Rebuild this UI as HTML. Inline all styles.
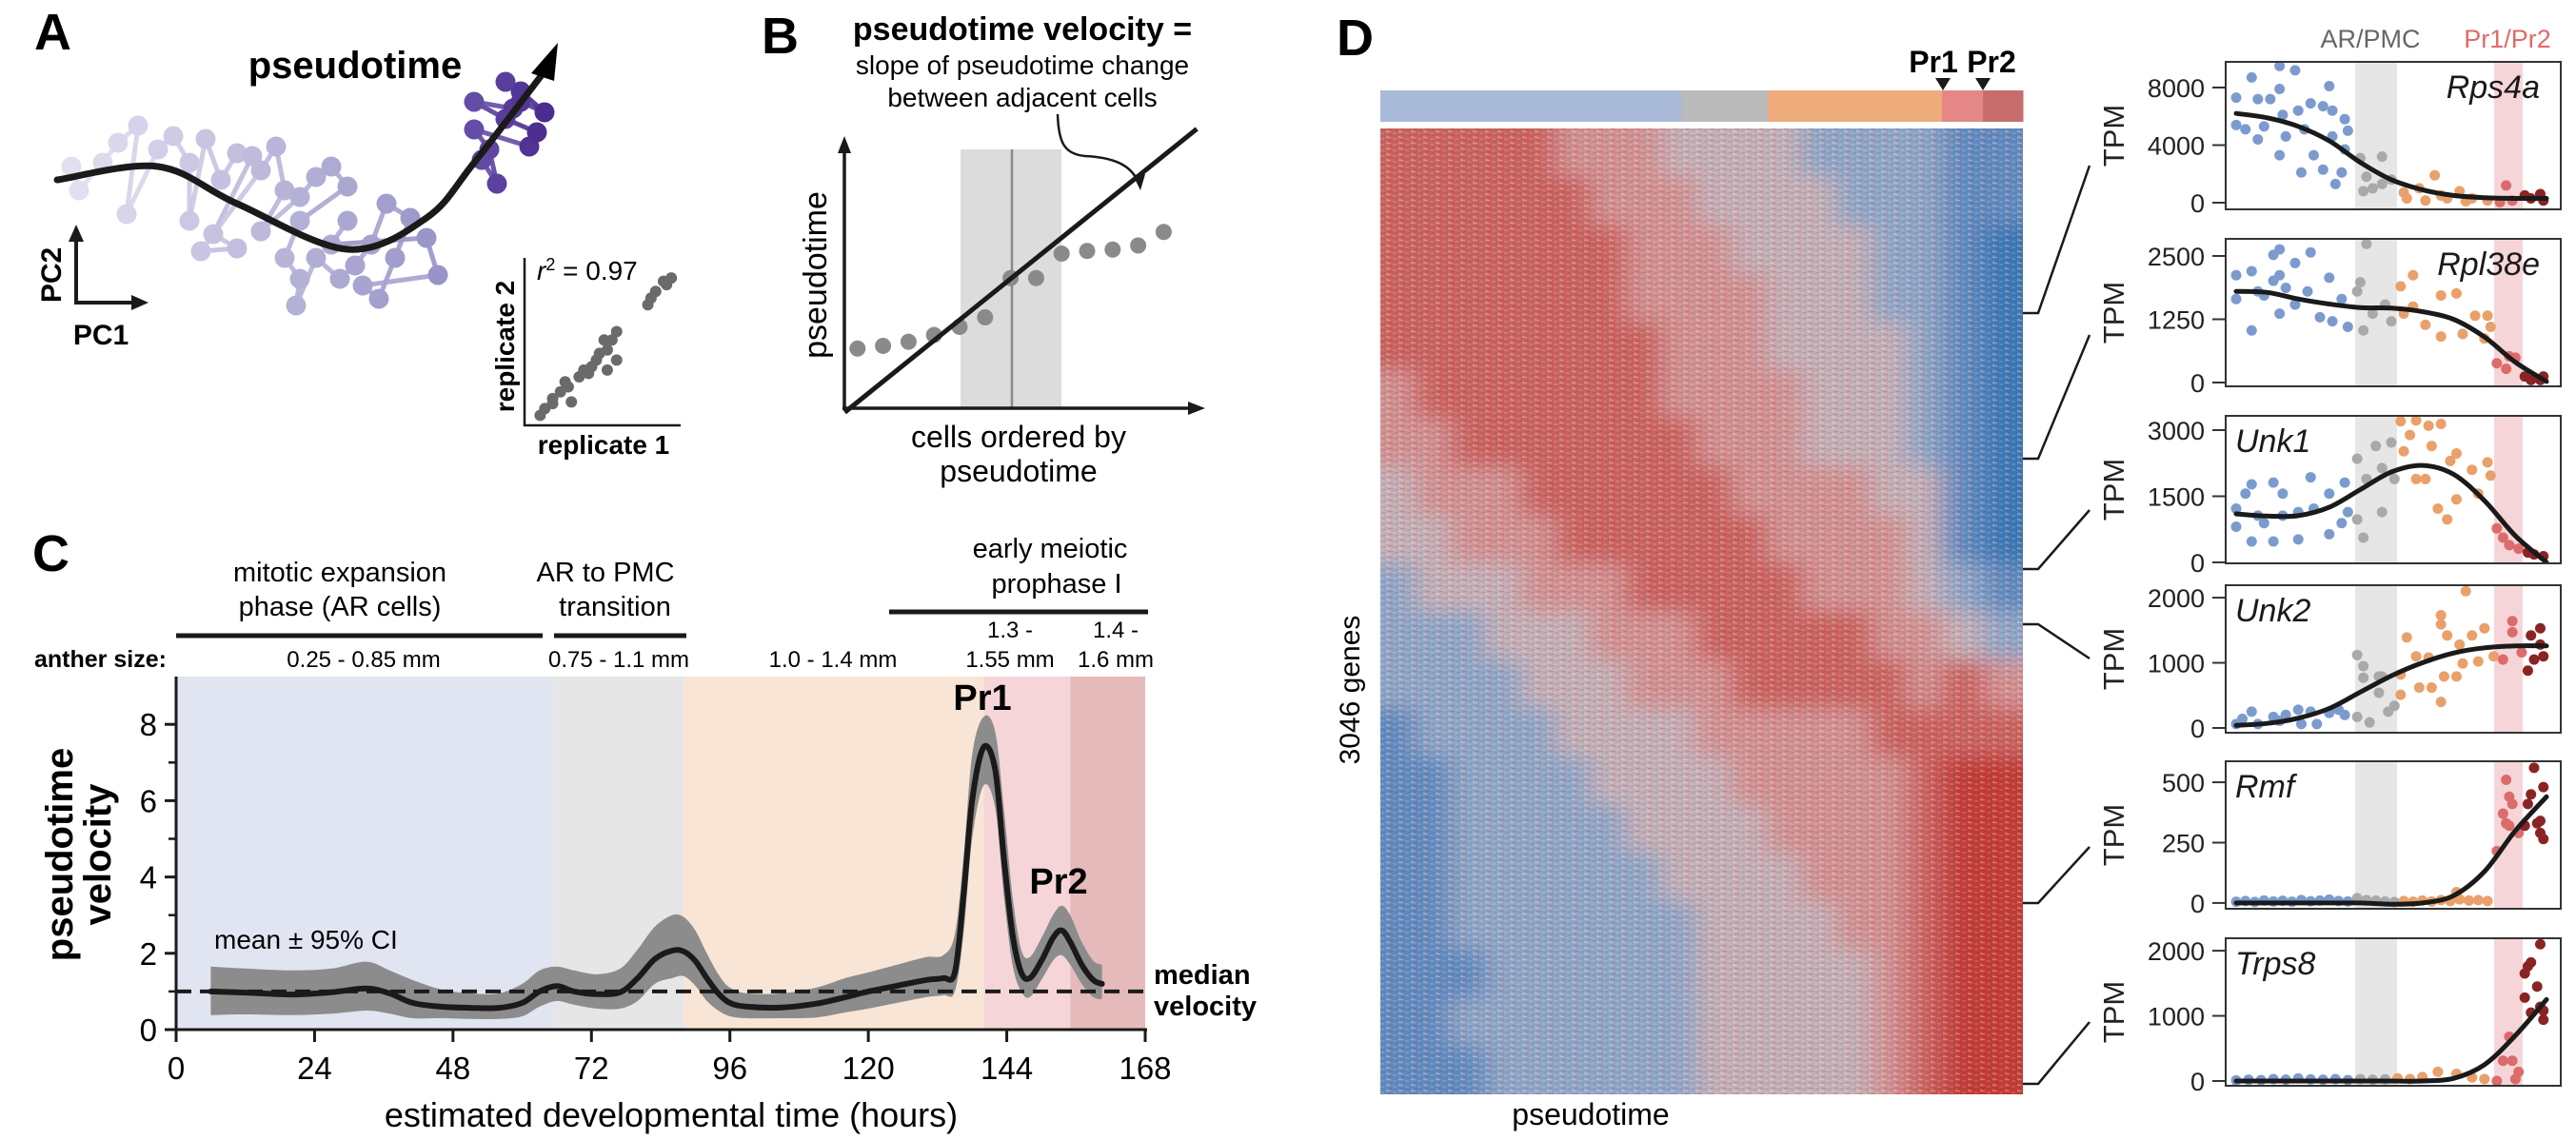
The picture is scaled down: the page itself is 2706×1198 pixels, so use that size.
<!DOCTYPE html>
<html><head><meta charset="utf-8">
<style>
html,body{margin:0;padding:0;background:#fff;}
svg{display:block;}
.cn{font-family:"Liberation Sans Narrow","Liberation Sans",sans-serif;}
.rg{font-family:"Liberation Sans",sans-serif;}
</style></head>
<body>
<svg id="fig" xmlns="http://www.w3.org/2000/svg" width="2706" height="1198" viewBox="0 0 2706 1198">
<defs>
<pattern id="tex" width="13" height="6" patternUnits="userSpaceOnUse">
<rect x="0" y="0" width="5" height="1.2" fill="#fff" opacity="0.3"/>
<rect x="7" y="1.5" width="4" height="1" fill="#fff" opacity="0.25"/>
<rect x="2" y="3" width="5" height="1.2" fill="#b22" opacity="0.22"/>
<rect x="9" y="4.2" width="4" height="1" fill="#26a" opacity="0.22"/>
<rect x="0" y="4.8" width="3" height="1" fill="#fff" opacity="0.25"/>
</pattern>
<filter id="hblur" filterUnits="userSpaceOnUse" x="1380" y="60" width="820" height="1170">
<feGaussianBlur stdDeviation="14 10"/>
</filter>
<clipPath id="heatClip"><rect x="1450" y="135" width="675" height="1015"/></clipPath>
</defs>

<!-- Panel A -->
<g id="panelA">
<text x="36" y="52" class="cn" font-size="54" font-weight="bold">A</text>
<text x="373" y="82" class="cn" font-size="40" font-weight="bold" text-anchor="middle">pseudotime</text>
<g id="pcaPts"></g>
<g id="pcaCurve"></g>
<g>
<line x1="80" y1="318" x2="80" y2="250" stroke="#1a1a1a" stroke-width="4"/>
<polygon points="80,236 72,254 88,254" fill="#1a1a1a"/>
<line x1="78" y1="318" x2="142" y2="318" stroke="#1a1a1a" stroke-width="4"/>
<polygon points="156,318 138,310 138,326" fill="#1a1a1a"/>
<text transform="translate(64,289) rotate(-90)" class="cn" font-size="30" font-weight="bold" text-anchor="middle">PC2</text>
<text x="106" y="362" class="cn" font-size="30" font-weight="bold" text-anchor="middle">PC1</text>
</g>
<g id="inset">
<polyline points="551,271 551,447 715,447" fill="none" stroke="#1a1a1a" stroke-width="2.5"/>
<text x="564" y="294" class="cn" font-size="28"><tspan font-style="italic">r</tspan><tspan dy="-10" font-size="18">2</tspan><tspan dy="10"> = 0.97</tspan></text>
<text transform="translate(540,364) rotate(-90)" class="cn" font-size="28" font-weight="bold" text-anchor="middle">replicate 2</text>
<text x="634" y="477" class="cn" font-size="28" font-weight="bold" text-anchor="middle">replicate 1</text>
<g id="insetPts"></g>
</g>
</g>

<!-- Panel B -->
<g id="panelB">
<text x="800" y="56" class="cn" font-size="54" font-weight="bold">B</text>
<text x="1074" y="42" class="cn" font-size="34" font-weight="bold" text-anchor="middle">pseudotime velocity =</text>
<text x="1074" y="78" class="cn" font-size="28" text-anchor="middle">slope of pseudotime change</text>
<text x="1074" y="112" class="cn" font-size="28" text-anchor="middle">between adjacent cells</text>
<rect x="1009" y="157" width="106" height="272" fill="#dcdcdc"/>
<line x1="1063" y1="157" x2="1063" y2="429" stroke="#8a8a8a" stroke-width="2.5"/>
<line x1="887" y1="431" x2="887" y2="158" stroke="#1a1a1a" stroke-width="3.5"/>
<polygon points="887,143 880,161 894,161" fill="#1a1a1a"/>
<line x1="885" y1="429" x2="1252" y2="429" stroke="#1a1a1a" stroke-width="3.5"/>
<polygon points="1266,429 1248,422 1248,436" fill="#1a1a1a"/>
<g id="bPts"></g>
<line id="bFit" stroke="#1a1a1a" stroke-width="5"/>
<path d="M1111,120 C1112,150 1118,162 1140,164 C1178,166 1190,178 1196,192" fill="none" stroke="#1a1a1a" stroke-width="2.5"/>
<polygon points="1198,200 1190,184 1203,183" fill="#1a1a1a"/>
<text transform="translate(868,289) rotate(-90)" class="cn" font-size="34" text-anchor="middle">pseudotime</text>
<text x="1070" y="470" class="cn" font-size="32" text-anchor="middle">cells ordered by</text>
<text x="1070" y="506" class="cn" font-size="32" text-anchor="middle">pseudotime</text>
</g>

<!-- Panel C -->
<g id="panelC">
<text x="34" y="600" class="cn" font-size="54" font-weight="bold">C</text>
<g class="cn" font-size="29" text-anchor="middle">
<text x="357" y="611">mitotic expansion</text>
<text x="357" y="647">phase (AR cells)</text>
<line x1="185" y1="668" x2="570" y2="668" stroke="#1a1a1a" stroke-width="5"/>
<text x="636" y="611">AR to PMC</text>
<text x="646" y="647">transition</text>
<line x1="582" y1="668" x2="721" y2="668" stroke="#1a1a1a" stroke-width="5"/>
<text x="1103" y="586">early meiotic</text>
<text x="1110" y="623">prophase I</text>
<line x1="934" y1="643" x2="1206" y2="643" stroke="#1a1a1a" stroke-width="5"/>
</g>
<g class="cn" font-size="24" text-anchor="middle">
<text x="36" y="701" text-anchor="start" font-weight="bold" font-size="25">anther size:</text>
<text x="382" y="701">0.25 - 0.85 mm</text>
<text x="650" y="701">0.75 - 1.1 mm</text>
<text x="875" y="701">1.0 - 1.4 mm</text>
<text x="1061" y="670">1.3 -</text>
<text x="1061" y="701">1.55 mm</text>
<text x="1172" y="670">1.4 -</text>
<text x="1172" y="701">1.6 mm</text>
</g>
<g id="cBg"></g>
<g id="cBand"></g>
<line id="cMedian" stroke="#1a1a1a" stroke-width="4" stroke-dasharray="16,9"/>
<g id="cLine"></g>
<g id="cAxes"></g>
<text x="1032" y="746" class="cn" font-size="38" font-weight="bold" text-anchor="middle">Pr1</text>
<text x="1112" y="939" class="cn" font-size="38" font-weight="bold" text-anchor="middle">Pr2</text>
<text x="225" y="997" class="cn" font-size="28">mean ± 95% CI</text>
<text x="1212" y="1034" class="cn" font-size="29" font-weight="bold">median</text>
<text x="1212" y="1067" class="cn" font-size="29" font-weight="bold">velocity</text>
<text transform="translate(76,898) rotate(-90)" class="rg" font-size="40" font-weight="bold" text-anchor="middle">pseudotime</text>
<text transform="translate(116,898) rotate(-90)" class="rg" font-size="40" font-weight="bold" text-anchor="middle">velocity</text>
<text x="705" y="1184" class="cn" font-size="36" text-anchor="middle">estimated developmental time (hours)</text>
</g>

<!-- Panel D -->
<g id="panelD">
<text x="1404" y="58" class="cn" font-size="54" font-weight="bold">D</text>
<g id="dBar"></g>
<text x="2031" y="76" class="cn" font-size="32" font-weight="bold" text-anchor="middle">Pr1</text>
<text x="2092" y="76" class="cn" font-size="32" font-weight="bold" text-anchor="middle">Pr2</text>
<polygon points="2033,82 2049,82 2041,95" fill="#1a1a1a"/>
<polygon points="2075,82 2091,82 2083,95" fill="#1a1a1a"/>
<g clip-path="url(#heatClip)">
<g id="heat" filter="url(#hblur)"></g>
</g>
<rect x="1450" y="135" width="675" height="1015" fill="url(#tex)"/>
<text transform="translate(1428,725) rotate(-90)" class="rg" font-size="30" text-anchor="middle">3046 genes</text>
<text x="1671" y="1182" class="rg" font-size="32" text-anchor="middle">pseudotime</text>
<g id="connectors"></g>
<text x="2490" y="50" class="rg" font-size="27" fill="#666" text-anchor="middle">AR/PMC</text>
<text x="2634" y="50" class="rg" font-size="27" fill="#e06a6a" text-anchor="middle">Pr1/Pr2</text>
<g id="minis"></g>
</g>
</svg>

<script>
// ================= DATA =================
const pcaPC1 = [-1,0.6,5.6,8.8,13,10.6,17.2,20.4,23.8,23.8,27.2,30.4,33.8,37,28.8,33.8,26.2,38.8,42,43.8,38.8,47,50.4,53.6,57,47,43.8,47,46.2,50.4,55.4,58.6,62,65.2,70.2,67,63.6,60.2,76,73.6,53.6,57,85.2,88.4,86.8,83.6,95.2,96.8,90.2,83.6,91.8,93.4,98.4,93.4,90.2];
const pcaPC2 = [28.6,23.6,29.4,33.6,37.2,18.6,32.2,35,29.4,17.2,34.4,25.8,31.4,30.8,14.4,11.4,10.8,27.8,32.8,23.6,15,22.2,26.4,28.6,24.4,17.2,9.4,5,-0.6,9.4,5,7.8,12.2,20.8,17.8,9.4,0.8,3.6,5.8,13.6,12.2,17.2,30,25,32.2,36.4,32.8,35.8,38.6,42.2,40.8,42.2,40,44.4,46.4];
const trajPC1 = [-4,17.2,33.8,57,73.6,83.6,98.4];
const trajPC2 = [25.8,28.6,20.8,11.2,17.8,29.4,48.6];
const rep1 = [.10,.13,.18,.23,.28,.30,.35,.41,.43,.46,.48,.53,.53,.56,.59,.51,.59,.79,.81,.84,.89,.94,.91,.18,.26,.38];
const rep2 = [.06,.10,.13,.20,.23,.14,.29,.31,.35,.39,.43,.45,.33,.51,.56,.51,.39,.72,.76,.80,.86,.88,.84,.16,.26,.33];
const bRank = [1,2,3,4,5,6,7,8,9,10,11,12,13];
const bPseudo = [2.2,2.3,2.45,2.7,3.0,3.35,4.8,4.8,5.7,5.8,5.85,6.0,6.5];
const bFitVals = [-0.15, 10.3];

const cHours = [6,12,20,27,33,37,41,46,51,56,60,63,66,69,73,77,80,83,86,88,90,92,94,96,99,105,111,116,120,125,130,133,135,136.5,138,140,142,143.5,145,146.5,148,150,152,153.5,155,157,159,160.5];
const cMean = [1.0,0.97,0.92,0.98,1.08,0.95,0.7,0.6,0.57,0.57,0.7,1.0,1.14,1.0,0.93,0.98,1.35,1.85,2.07,2.05,1.8,1.35,0.95,0.7,0.6,0.58,0.68,0.85,1.0,1.15,1.3,1.35,1.5,3.5,6.0,7.4,6.8,4.5,2.5,1.5,1.35,1.8,2.4,2.6,2.3,1.7,1.3,1.2];
const cHi = [1.65,1.6,1.55,1.6,1.78,1.55,1.3,1.05,0.95,0.95,1.2,1.55,1.65,1.55,1.45,1.6,2.1,2.7,3.0,2.95,2.6,2.0,1.45,1.1,0.95,0.95,1.1,1.35,1.5,1.7,1.9,1.95,2.5,4.5,7.2,8.2,7.8,5.8,3.5,2.1,1.9,2.4,3.0,3.25,3.0,2.3,1.8,1.7];
const cLo = [0.38,0.4,0.38,0.42,0.5,0.42,0.3,0.3,0.28,0.28,0.35,0.6,0.75,0.65,0.55,0.55,0.75,1.2,1.35,1.4,1.15,0.75,0.5,0.35,0.3,0.3,0.32,0.45,0.55,0.7,0.85,0.9,1.0,2.5,5.0,6.4,5.8,3.5,1.7,1.0,0.85,1.3,1.8,1.95,1.7,1.2,0.85,0.8];
const cMedianVal = 1.0;
const cStageEdges = [0,65.3,88,140,155,168];
const cStageColors = ["#e0e5f1","#e6e6e6","#f9e5d5","#f6d5d8","#e5babb"];
const cXTicks = [0,24,48,72,96,120,144,168];
const cYTicks = [0,2,4,6,8];
const cYMinor = [1,3,5,7];

const dStageEdges = [0,0.469,0.603,0.874,0.938,1];
const dStageColors = ["#aabbd9","#bbbbbb","#eeab7c","#e58787","#c76c6c"];
const heatRows = [
"555554443333222211",
"555555444333322211",
"555555544433332210",
"555555544443332210",
"555555554443333210",
"455555554444333210",
"445555555444333210",
"344455555544443310",
"334445555554444310",
"233344455555444321",
"222333444555554432",
"222233344455555454",
"122223333444445555",
"112222333344444566",
"112222233334444566",
"112222223333444566",
"112222222333344566",
"111222222333334566",
"112222222333334566",
"111222222333334566"];
const heatColors = ["#3a77b4","#6189bd","#8ea4c4","#c2adb4","#d08f8f","#c9625d","#c13a35"];

const rps4aX = [0,0,.05,.07,.09,.11,.14,.14,.15,.16,.19,.2,.22,.24,.25,.28,.3,.31,.31,.21,.28,.35,.36,.34,.32,.35,.14,.07,.03,.4,.41,.42,.47,.47,.5,.44,.54,.59,.64,.66,.72,.76,.81,.87,.85,.89,.93,.95,.98,.99,.55,.61,.68,.74];
const rps4aY = [7300,5400,8700,7200,5300,7200,9500,7900,6100,4600,9200,6400,5100,6900,3300,6700,8100,6400,4600,2100,2300,5800,5000,2100,1300,3700,3300,4400,5100,3100,800,1800,3200,1300,1600,1000,700,1000,1900,500,800,300,150,1200,30,150,500,300,600,150,300,150,300,100];
const rps4aCurve = [6200,5900,5300,4300,2800,1600,900,500,350,300,300];

const rpl38eX = [0,0,.05,.05,.07,.12,.14,.14,.14,.12,.19,.19,.24,.23,.3,.27,.31,.34,.36,.09,.16,.39,.4,.42,.41,.44,.48,.5,.53,.54,.57,.57,.61,.66,.66,.71,.73,.77,.81,.82,.8,.84,.87,.9,.88,.93,.95,.99,.98];
const rpl38eY = [2120,1650,2200,1030,1800,2520,2630,2120,1360,2010,2360,1540,2570,1800,2070,1290,1210,1650,1100,1720,1870,1800,1980,2740,1030,1360,1540,1210,1900,1360,2120,1500,1140,1720,910,1760,960,1320,1320,1100,870,380,270,490,520,120,50,120,50];
const rpl38eCurve = [1800,1780,1650,1550,1480,1470,1400,1250,900,400,20];

const unk1X = [0,0,.03,.05,.05,.07,.09,.12,.12,.15,.15,.2,.2,.24,.25,.3,.3,.35,.34,.36,.39,.39,.41,.42,.45,.47,.47,.5,.51,.53,.54,.56,.58,.58,.61,.62,.63,.65,.66,.68,.69,.71,.71,.76,.78,.81,.82,.84,.86,.88,.91,.94,.96,.99];
const unk1Y = [1220,810,1560,1770,475,1060,890,1810,475,1560,1060,1140,520,1930,1220,640,1560,1810,890,1140,2350,975,560,1890,2640,2140,1140,2720,1890,3200,2520,2890,3220,1890,1890,3100,2640,1220,3140,975,2300,2470,1430,2100,1560,2270,1970,770,560,390,310,225,180,140];
const unk1Curve = [1100,1050,1060,1250,1650,2050,2200,2000,1400,600,0];

const unk2X = [0,.02,.05,.07,.12,.14,.16,.2,.21,.24,.26,.3,.33,.35,.39,.41,.41,.39,.43,.46,.46,.47,.49,.51,.53,.53,.55,.58,.59,.62,.63,.66,.66,.66,.67,.68,.71,.72,.73,.74,.76,.78,.8,.83,.86,.89,.89,.92,.94,.95,.96,.98,.99,.98];
const unk2Y = [60,140,250,60,170,110,200,280,60,250,60,230,280,200,1120,950,770,170,85,790,540,790,250,340,510,820,1390,1100,620,1080,620,1730,1590,400,790,1420,790,1280,990,2100,1420,1020,1530,1100,1050,1640,1470,1160,880,1420,1050,1530,1100,1280];
const unk2Curve = [40,70,150,300,550,800,1000,1150,1230,1260,1260];

const rmfX = [0,.03,.06,.09,.12,.15,.18,.21,.24,.27,.3,.33,.36,.39,.42,.45,.48,.51,.54,.57,.6,.63,.66,.69,.71,.72,.75,.78,.81,.84,.87,.86,.88,.88,.89,.91,.87,.93,.94,.95,.96,.97,.98,.99,.99,.98];
const rmfY = [5,8,4,10,6,9,5,12,7,10,14,8,6,20,12,10,6,4,8,5,10,6,12,8,45,15,10,12,8,215,510,370,440,320,410,290,330,320,410,450,560,330,290,480,265,340];
const rmfCurve = [0,0,0,0,0,-5,0,30,130,300,440];

const trps8X = [0,.04,.08,.12,.16,.2,.24,.28,.32,.36,.4,.44,.48,.52,.56,.6,.65,.71,.76,.8,.84,.86,.88,.89,.9,.91,.93,.94,.95,.93,.97,.98,.95,.99,.99,.98];
const trps8Y = [10,20,15,30,20,40,25,20,30,15,30,20,25,40,30,60,140,110,55,30,0,310,680,310,30,140,1650,1760,1820,1280,1450,2100,1050,1080,940,1140];
const trps8Curve = [0,0,0,0,0,0,0,40,250,700,1250];

// ================= HELPERS =================
const NS = "http://www.w3.org/2000/svg";
function mk(tag, attrs, parent){
  const el = document.createElementNS(NS, tag);
  for (const k in attrs) el.setAttribute(k, attrs[k]);
  parent.appendChild(el);
  return el;
}
function smooth(pts, start){
  let d = (start||"M") + pts[0][0].toFixed(1) + "," + pts[0][1].toFixed(1);
  for (let i=0;i<pts.length-1;i++){
    const p0 = pts[Math.max(0,i-1)], p1 = pts[i], p2 = pts[i+1], p3 = pts[Math.min(pts.length-1,i+2)];
    const c1x = p1[0]+(p2[0]-p0[0])/6, c1y = p1[1]+(p2[1]-p0[1])/6;
    const c2x = p2[0]-(p3[0]-p1[0])/6, c2y = p2[1]-(p3[1]-p1[1])/6;
    d += " C"+c1x.toFixed(1)+","+c1y.toFixed(1)+" "+c2x.toFixed(1)+","+c2y.toFixed(1)+" "+p2[0].toFixed(1)+","+p2[1].toFixed(1);
  }
  return d;
}
function lerpColor(a,b,t){
  return "rgb("+a.map((v,i)=>Math.round(v+(b[i]-v)*t)).join(",")+")";
}

// ================= PANEL A =================
const pcX = v => 80 + v*5;
const pcY = v => 318 - v*5;
function pcaColor(v){
  const t = Math.max(0, Math.min(1, v/100));
  if (t < 0.78) return lerpColor([226,224,240],[150,146,198], t/0.78);
  return lerpColor([110,90,175],[72,40,140], (t-0.78)/0.22);
}
const pcaG = document.getElementById("pcaPts");
for (let i=0;i<pcaPC1.length-1;i++){
  const sameGroup = (pcaPC1[i]>=80) === (pcaPC1[i+1]>=80);
  if (!sameGroup) continue;
  const ln = mk("line",{x1:pcX(pcaPC1[i]),y1:pcY(pcaPC2[i]),x2:pcX(pcaPC1[i+1]),y2:pcY(pcaPC2[i+1]),stroke:pcaColor(pcaPC1[i]),"stroke-width":5,opacity:0.9},pcaG);
  
  
}
for (let i=0;i<pcaPC1.length;i++){
  const c = mk("circle",{cx:pcX(pcaPC1[i]),cy:pcY(pcaPC2[i]),r:10.5,fill:pcaColor(pcaPC1[i])},pcaG);
  
  
}
const trajG = document.getElementById("pcaCurve");
const trajPts = trajPC1.map((v,i)=>[pcX(v),pcY(trajPC2[i])]);
const traj = mk("path",{d:smooth(trajPts),fill:"none",stroke:"#1a1a1a","stroke-width":7,"stroke-linecap":"round"},trajG);


const lastA = trajPts[trajPts.length-1];
const ah = mk("polygon",{points:(lastA[0]+14)+","+(lastA[1]-30)+" "+(lastA[0]-14)+","+(lastA[1]+2)+" "+(lastA[0]+10)+","+(lastA[1]+10)},trajG);



const insX = v => 551 + v*164;
const insY = v => 447 - v*176;
const insG = document.getElementById("insetPts");
for (let i=0;i<rep1.length;i++){
  const c = mk("circle",{cx:insX(rep1[i]),cy:insY(rep2[i]),r:6,fill:"#6a6a6a"},insG);
  
  
}

// ================= PANEL B =================
const bX = v => 874 + v*26.8;
const bY = v => 429 - v*28.5;
const bG = document.getElementById("bPts");
for (let i=0;i<bRank.length;i++){
  const c = mk("circle",{cx:bX(bRank[i]),cy:bY(bPseudo[i]),r:8.5,fill:"#8a8a8a"},bG);
  
  
}
const bFit = document.getElementById("bFit");
bFit.setAttribute("x1", bX(0.5)); bFit.setAttribute("y1", bY(bFitVals[0]));
bFit.setAttribute("x2", bX(14.3)); bFit.setAttribute("y2", bY(bFitVals[1]));

// ================= PANEL C =================
const cx0=185, cx1=1203, cy0=1082, cPerUnit=40.1, cTop=711;
const cX = h => cx0 + h/168*(cx1-cx0);
const cY = v => cy0 - v*cPerUnit;
const bgG = document.getElementById("cBg");
for (let i=0;i<cStageColors.length;i++){
  const r = mk("rect",{x:cX(cStageEdges[i]),y:cTop,width:cX(cStageEdges[i+1])-cX(cStageEdges[i]),height:cy0-cTop,fill:cStageColors[i]},bgG);
  
  
}
const hiPts = cHours.map((h,i)=>[cX(h),cY(cHi[i])]);
const loPts = cHours.map((h,i)=>[cX(h),cY(cLo[i])]).reverse();
const band = mk("path",{d:smooth(hiPts)+" "+smooth(loPts,"L")+" Z",fill:"#8c8c8c"},document.getElementById("cBand"));


const med = document.getElementById("cMedian");
med.setAttribute("x1", cx0); med.setAttribute("x2", cX(168)+6);
med.setAttribute("y1", cY(cMedianVal)); med.setAttribute("y2", cY(cMedianVal));
const meanPath = mk("path",{d:smooth(cHours.map((h,i)=>[cX(h),cY(cMean[i])])),fill:"none",stroke:"#1a1a1a","stroke-width":6,"stroke-linecap":"round"},document.getElementById("cLine"));


const axG = document.getElementById("cAxes");
const yAx = mk("line",{x1:cx0,y1:cTop,x2:cx0,y2:cy0+2,stroke:"#1a1a1a","stroke-width":3},axG);


const xAx = mk("line",{x1:cx0-2,y1:cy0,x2:cx1+2,y2:cy0,stroke:"#1a1a1a","stroke-width":3},axG);


cXTicks.forEach(t=>{
  const tk = mk("line",{x1:cX(t),y1:cy0,x2:cX(t),y2:cy0+13,stroke:"#1a1a1a","stroke-width":3},axG);
  
  
  const tl = mk("text",{x:cX(t),y:cy0+52,"text-anchor":"middle","font-size":33,class:"cn"},axG);
  tl.textContent = t;
  
  
});
cYTicks.forEach(t=>{
  const tk = mk("line",{x1:cx0-12,y1:cY(t),x2:cx0,y2:cY(t),stroke:"#1a1a1a","stroke-width":3},axG);
  
  
  const tl = mk("text",{x:cx0-20,y:cY(t)+12,"text-anchor":"end","font-size":33,class:"cn"},axG);
  tl.textContent = t;
  
  
});
cYMinor.forEach(t=>{
  const tk = mk("line",{x1:cx0-8,y1:cY(t),x2:cx0,y2:cY(t),stroke:"#1a1a1a","stroke-width":2.5},axG);
  
  
});

// ================= PANEL D =================
const hx0=1450, hx1=2125;
const dBarG = document.getElementById("dBar");
const dX = f => hx0 + f*(hx1-hx0);
for (let i=0;i<dStageColors.length;i++){
  const r = mk("rect",{x:dX(dStageEdges[i]),y:95,width:dX(dStageEdges[i+1])-dX(dStageEdges[i])+0.5,height:33,fill:dStageColors[i]},dBarG);
  
  
}
const heatG = document.getElementById("heat");
const hTop=135, hBot=1150;
const rowH = (hBot-hTop)/heatRows.length;
const mainCols = 16;
const colEdgesFrac = [];
for (let c=0;c<=mainCols;c++) colEdgesFrac.push(c/mainCols*dStageEdges[3]);
colEdgesFrac.push(dStageEdges[4]); colEdgesFrac.push(1);
const PAD = 60;
heatRows.forEach((row,ri)=>{
  for (let ci=0; ci<row.length; ci++){
    const lvl = +row[ci];
    let x0 = dX(colEdgesFrac[ci]), x1 = dX(colEdgesFrac[ci+1]);
    let y0 = hTop+ri*rowH, y1 = y0+rowH;
    if (ci===0) x0 -= PAD;
    if (ci===row.length-1) x1 += PAD;
    if (ri===0) y0 -= PAD;
    if (ri===heatRows.length-1) y1 += PAD;
    const r = mk("rect",{x:x0,y:y0,width:x1-x0+0.6,height:y1-y0+0.6,fill:heatColors[lvl]},heatG);
    
    
  }
});

const conG = document.getElementById("connectors");
const conRowY = [329,482,598,656,949,1139];
const conLabelY = [174,352,536,692,890,1074];
conRowY.forEach((y,i)=>{
  const p = mk("polyline",{points:"2125,"+y+" 2141,"+y+" 2195,"+conLabelY[i],fill:"none",stroke:"#1a1a1a","stroke-width":2.5},conG);
  
  
});

const boxL=2338, boxR=2690, px0=2349, px1=2675;
const mpX = f => px0 + f*(px1-px0);
function stageColor(f){
  if (f < 0.383) return "#7b9bcf";
  if (f < 0.518) return "#a9a9a9";
  if (f < 0.831) return "#eaa06a";
  if (f < 0.923) return "#dc6b6b";
  return "#8a2424";
}
const genes = [
  {name:"Rps4a", top:65, ymin:-463, ymax:9785, ticks:[0,4000,8000], xs:rps4aX, ys:rps4aY, curve:rps4aCurve, right:true},
  {name:"Rpl38e", top:251, ymin:-75, ymax:2838, ticks:[0,1250,2500], xs:rpl38eX, ys:rpl38eY, curve:rpl38eCurve, right:true},
  {name:"Unk1", top:437, ymin:-22, ymax:3324, ticks:[0,1500,3000], xs:unk1X, ys:unk1Y, curve:unk1Curve, right:false},
  {name:"Unk2", top:615, ymin:-73, ymax:2191, ticks:[0,1000,2000], xs:unk2X, ys:unk2Y, curve:unk2Curve, right:false},
  {name:"Rmf", top:800, ymin:-24, ymax:587, ticks:[0,250,500], xs:rmfX, ys:rmfY, curve:rmfCurve, right:false},
  {name:"Trps8", top:986, ymin:-73, ymax:2191, ticks:[0,1000,2000], xs:trps8X, ys:trps8Y, curve:trps8Curve, right:false}
];
const minis = document.getElementById("minis");
const boxH = 155;
genes.forEach(g=>{
  const G = mk("g",{},minis);
  
  
  const bot = g.top+boxH;
  const yS = v => bot - (v-g.ymin)/(g.ymax-g.ymin)*boxH;
  const clip = "clip-"+g.name;
  const cp = mk("clipPath",{id:clip},G);
  mk("rect",{x:boxL,y:g.top,width:boxR-boxL,height:boxH},cp);
  const gb = mk("rect",{x:2474,y:g.top,width:44,height:boxH,fill:"#e6e6e6"},G);
  
  
  const pb = mk("rect",{x:2620,y:g.top,width:30,height:boxH,fill:"#f6d5d8"},G);
  
  
  const inner = mk("g",{"clip-path":"url(#"+clip+")"},G);
  g.xs.forEach((x,i)=>{
    const c = mk("circle",{cx:mpX(x),cy:yS(g.ys[i]),r:5.5,fill:stageColor(x)},inner);
    
    
  });
  const cpts = g.curve.map((v,i)=>[mpX(i/(g.curve.length-1)), yS(v)]);
  const cl = mk("path",{d:smooth(cpts),fill:"none",stroke:"#1a1a1a","stroke-width":5,"stroke-linecap":"round"},inner);
  
  
  const bx = mk("rect",{x:boxL,y:g.top,width:boxR-boxL,height:boxH,fill:"none",stroke:"#333","stroke-width":2},G);
  
  
  g.ticks.forEach(t=>{
    const tk = mk("line",{x1:boxL-14,y1:yS(t),x2:boxL,y2:yS(t),stroke:"#333","stroke-width":2},G);
    
    
    const tl = mk("text",{x:boxL-22,y:yS(t)+10,"text-anchor":"end","font-size":27,class:"rg",fill:"#222"},G);
    tl.textContent = t;
    
    
  });
  const yl = mk("text",{transform:"translate(2231,"+(g.top+boxH/2)+") rotate(-90)","text-anchor":"middle","font-size":31,class:"rg",fill:"#222"},G);
  yl.textContent = "TPM";
  
  
  const nm = mk("text",{x:g.right?2668:2348,y:g.top+38,"text-anchor":g.right?"end":"start","font-size":34,"font-style":"italic",class:"rg",fill:"#1a1a1a"},G);
  nm.textContent = g.name;
  
  
});
</script>
</body></html>
